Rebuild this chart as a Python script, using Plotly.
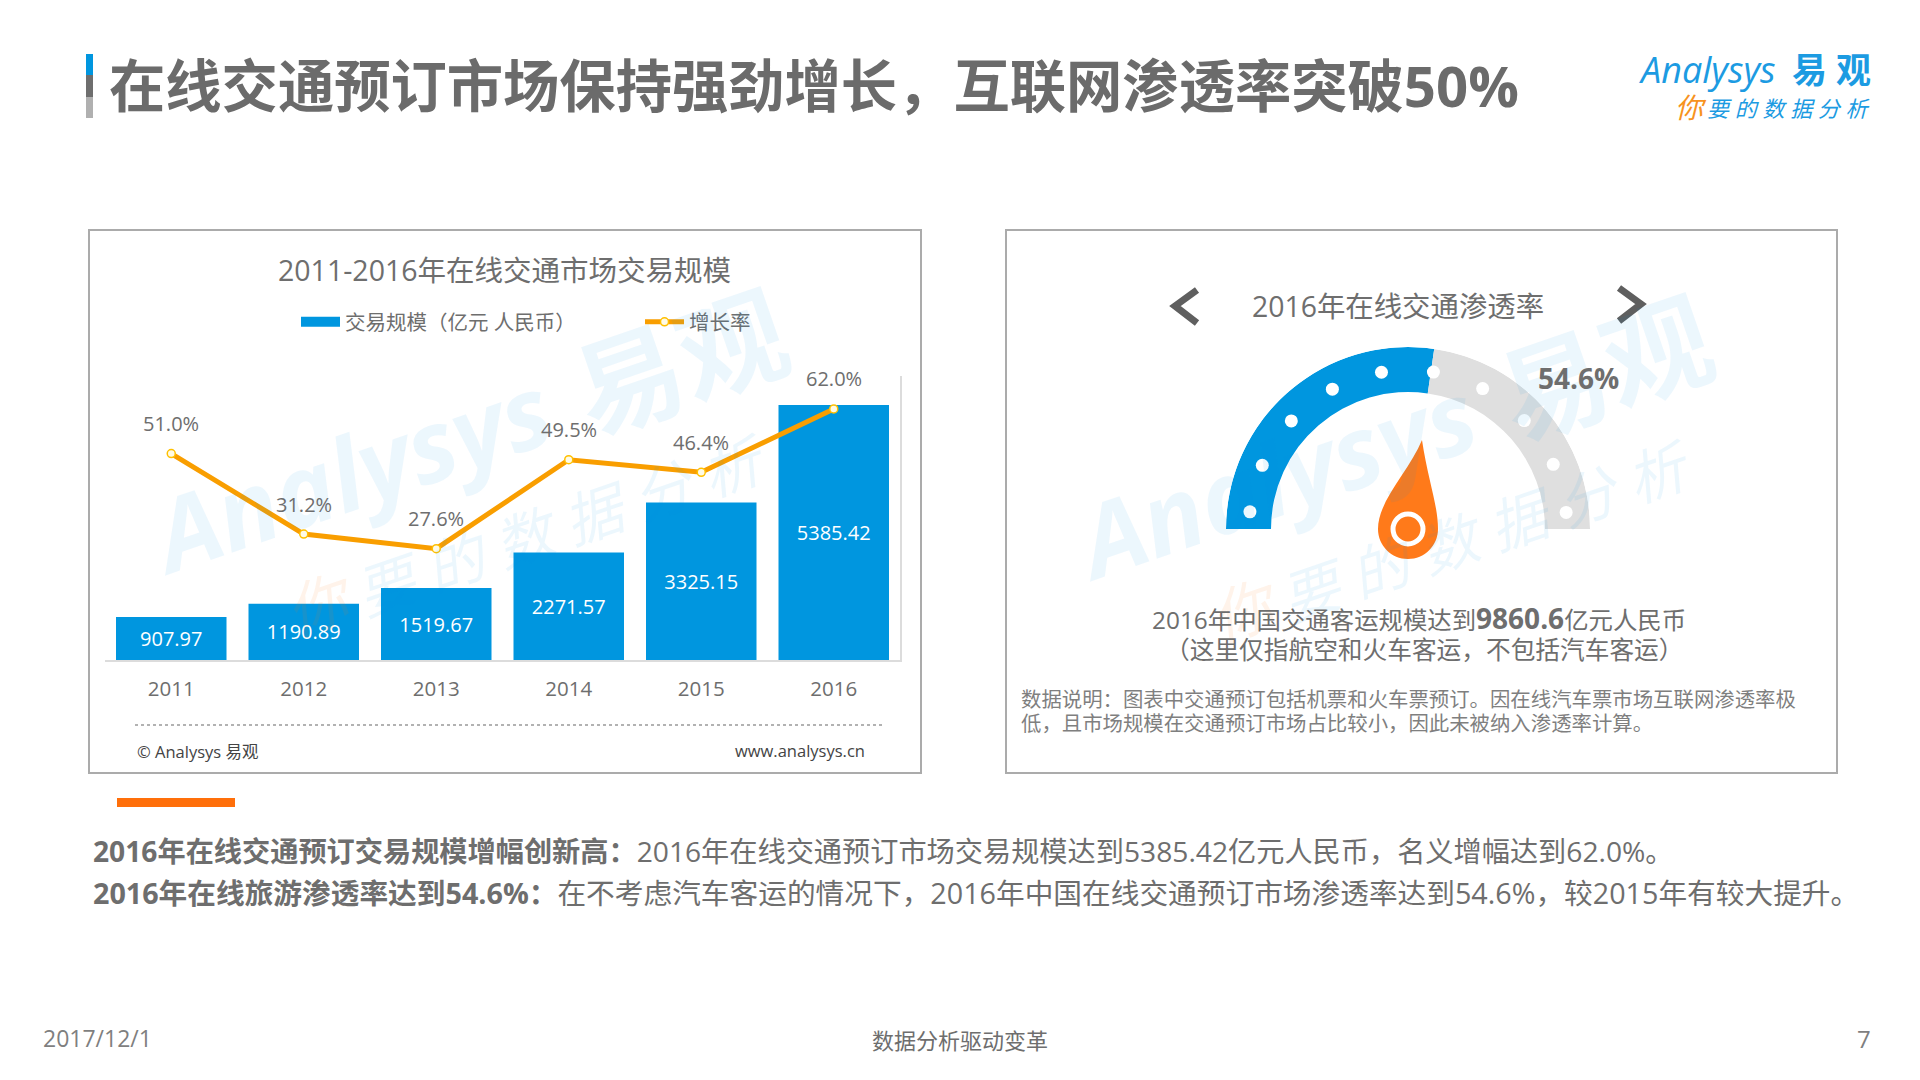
import plotly.graph_objects as go

years = ["2011", "2012", "2013", "2014", "2015", "2016"]
volume = [907.97, 1190.89, 1519.67, 2271.57, 3325.15, 5385.42]
growth = [51.0, 31.2, 27.6, 49.5, 46.4, 62.0]
penetration = 54.6
dot_angles = [6.2, 23.6, 42.8, 61.6, 80.4, 99.2, 118, 137, 156, 174]

W, H = 1920, 1080
BLUE = "#0096df"
ORANGE = "#f99e00"
TXT = "#6e6e6e"
FONT = "Open Sans, Noto Sans CJK SC, sans-serif"

def px(x): return x / W
def py(y): return 1 - y / H

def note(x, y, text, size, color=TXT, anchor="left", angle=0, **kw):
    return dict(x=px(x), y=py(y), xref="paper", yref="paper", text=text, showarrow=False,
                xanchor=anchor, yanchor="middle", textangle=angle,
                font=dict(size=size, color=color, family=FONT), **kw)

fig = go.Figure()
fig.add_bar(x=years, y=volume, text=[f"{v:.2f}" for v in volume], textposition="inside",
            insidetextanchor="middle", textangle=0, constraintext="none",
            textfont=dict(size=20, color="white", family=FONT),
            marker=dict(color=BLUE, line_width=0), showlegend=False)
fig.add_scatter(x=[years[0]], y=[None], mode="lines", name="交易规模（亿元 人民币）",
                line=dict(color=BLUE, width=11), showlegend=True)
fig.add_scatter(x=years, y=growth, yaxis="y2", mode="lines+markers", name="增长率",
                line=dict(color=ORANGE, width=5),
                marker=dict(size=8, color="#fffbe6", line=dict(color="#ffc000", width=1.5)),
                showlegend=True)
# gauge
fig.add_barpolar(theta=[penetration * 1.8 / 2], width=[penetration * 1.8], r=[45], base=[137],
                 marker=dict(color=BLUE, line_width=0), showlegend=False)
fig.add_barpolar(theta=[penetration * 1.8 + (100 - penetration) * 0.9], width=[(100 - penetration) * 1.8],
                 r=[45], base=[137], marker=dict(color="#dfdfdf", line_width=0), showlegend=False)
fig.add_scatterpolar(theta=dot_angles, r=[159] * len(dot_angles), mode="markers",
                     marker=dict(size=13, color="white"), showlegend=False)

ann = []
# watermark
for dx, dy in [(0, 0), (925, 6)]:
    wm = "rgba(0,150,223,0.075)"
    ann.append(note(349 + dx, 471 + dy, "<b><i>Analysys</i></b>", 100, wm, "center", -19))
    ann.append(note(680 + dx, 361 + dy, "<b>易观</b>", 108, wm, "center", -19))
    ann.append(note(320 + dx, 604 + dy, "<i>你</i>", 60, "rgba(255,120,20,0.09)", "center", -19))
    ann.append(note(560 + dx, 525 + dy, "<i>要 的 数 据 分 析</i>", 58, wm, "center", -19))

# heading and logo
ann.append(note(107, 85, "<b>在线交通预订市场保持强劲增长，互联网渗透率突破50%</b>", 56.3, "#6b6b6b"))
ann.append(note(1778, 70, "<i>Analysys</i>", 36, "#1c9be2", "right"))
ann.append(note(1873, 69, "<b>易 观</b>", 35, "#1c9be2", "right"))
ann.append(note(1673, 107, "<i>你</i>", 28, "#f7931e"))
ann.append(note(1873, 108, "<i>要 的 数 据 分 析</i>", 22, "#1c9be2", "right"))

# left panel text
ann.append(note(505, 270, "2011-2016年在线交通市场交易规模", 28.5, TXT, "center"))
for i, g in enumerate(growth):
    ann.append(dict(x=i, y=g, xref="x", yref="y2", text=f"{g:.1f}%", showarrow=False, yshift=30,
                    xanchor="center", yanchor="middle", font=dict(size=20, color=TXT, family=FONT)))
ann.append(note(135, 751, "© Analysys 易观", 16.5, "#444444"))
ann.append(note(867, 750, "www.analysys.cn", 16.5, "#444444", "right"))

# right panel text
ann.append(note(1398, 306, "2016年在线交通渗透率", 28.4, TXT, "center"))
ann.append(note(1578, 378, f"<b>{penetration}%</b>", 28, TXT, "center"))
ann.append(note(1419, 618, "2016年中国交通客运规模达到<b><span style='font-size:28px'>9860.6</span></b>亿元人民币", 24.4, TXT, "center"))
ann.append(note(1424, 649, "（这里仅指航空和火车客运，不包括汽车客运）", 24.7, TXT, "center"))
ann.append(note(1019, 699, "数据说明：图表中交通预订包括机票和火车票预订。因在线汽车票市场互联网渗透率极", 20.4, "#7f7f7f"))
ann.append(note(1019, 723, "低，且市场规模在交通预订市场占比较小，因此未被纳入渗透率计算。", 20.4, "#7f7f7f"))

# bottom text
ann.append(note(91, 851, "<b>2016年在线交通预订交易规模增幅创新高：</b>2016年在线交通预订市场交易规模达到5385.42亿元人民币，名义增幅达到62.0%。", 28.2))
ann.append(note(91, 892, "<b>2016年在线旅游渗透率达到54.6%：</b>在不考虑汽车客运的情况下，2016年中国在线交通预订市场渗透率达到54.6%，较2015年有较大提升。", 28.7))
ann.append(note(41, 1038, "2017/12/1", 23, "#7f7f7f"))
ann.append(note(960, 1040, "数据分析驱动变革", 22, TXT, "center"))
ann.append(note(1873, 1038, "7", 24, "#7f7f7f", "right"))

def rect(x0, y0, x1, y1, **kw):
    return dict(type="rect", xref="paper", yref="paper", x0=px(x0), x1=px(x1), y0=py(y0), y1=py(y1), **kw)

def path(cmds, **kw):
    s = ""
    for c in cmds:
        s += c[0] + " ".join(f"{px(c[i]):.5f} {py(c[i + 1]):.5f}" for i in range(1, len(c), 2))
    return dict(type="path", xref="paper", yref="paper", path=s, **kw)

def circle(cx, cy, r, **kw):
    return dict(type="circle", xref="paper", yref="paper", x0=px(cx - r), x1=px(cx + r), y0=py(cy - r), y1=py(cy + r), **kw)

k = 30 * 0.5523
shapes = [
    rect(86, 54, 93, 75, fillcolor="#0096df", line_width=0),
    rect(86, 75, 93, 97, fillcolor="#6e6e6e", line_width=0),
    rect(86, 97, 93, 118, fillcolor="#b0b0b0", line_width=0),
    rect(89, 230, 921, 773, line=dict(color="#ababab", width=2)),
    rect(1006, 230, 1837, 773, line=dict(color="#ababab", width=2)),
    rect(117, 798, 235, 807, fillcolor="#ff6f0a", line_width=0),
    dict(type="line", xref="paper", yref="paper", x0=px(135), x1=px(884), y0=py(725), y1=py(725),
         line=dict(color="#999999", width=1.5, dash="dot")),
    path([("M", 1197, 290), ("L", 1175, 306), ("L", 1197, 323)], line=dict(color="#5f5f5f", width=7)),
    path([("M", 1619, 288), ("L", 1641, 304), ("L", 1619, 321)], line=dict(color="#5f5f5f", width=7)),
    path([("M", 1422, 440), ("C", 1428, 480, 1438, 505, 1438, 529),
          ("C", 1438, 529 + k, 1408 + k, 559, 1408, 559),
          ("C", 1408 - k, 559, 1378, 529 + k, 1378, 529),
          ("C", 1378, 500, 1410, 470, 1422, 440), ("Z",)],
         fillcolor="#ff7a1a", line_width=0),
    circle(1408, 529, 15, fillcolor="#ff7a1a", line=dict(color="white", width=5)),
]

fig.update_layout(
    width=W, height=H, margin=dict(l=0, r=0, t=0, b=0), paper_bgcolor="white", plot_bgcolor="rgba(0,0,0,0)",
    font=dict(family=FONT, color=TXT), hovermode=False, bargap=0.166,
    xaxis=dict(domain=[px(105), px(900)], type="category", categoryorder="array", categoryarray=years,
               range=[-0.5, 5.5], showline=True, linecolor="#dcdcdc", linewidth=1.5,
               ticks="", showgrid=False, tickfont=dict(size=20.5, color=TXT, family=FONT), ticklabelstandoff=10, zeroline=False),
    yaxis=dict(domain=[py(660), py(376)], range=[0, 6000], visible=False),
    yaxis2=dict(domain=[py(660), py(376)], overlaying="y", side="right", anchor="x", range=[0.2, 70.1], showgrid=False, zeroline=False,
                showticklabels=False, ticks="", showline=True, linecolor="#dcdcdc", linewidth=1.5),
    legend=dict(orientation="h", x=px(296), y=py(322), xanchor="left", yanchor="middle", itemwidth=39, traceorder="normal",
                entrywidth=290, entrywidthmode="pixels", font=dict(size=20.5, color=TXT, family=FONT), bgcolor="rgba(0,0,0,0)", tracegroupgap=0),
    polar=dict(domain=dict(x=[px(1226), px(1590)], y=[py(711), py(347)]), bgcolor="rgba(0,0,0,0)",
               angularaxis=dict(visible=False, rotation=180, direction="clockwise"),
               radialaxis=dict(visible=False, range=[0, 182])),
    annotations=ann, shapes=shapes,
)
fig.write_html("out.html", config={"displayModeBar": False},
               post_script="document.body.style.margin='0';document.body.style.overflow='hidden';")
